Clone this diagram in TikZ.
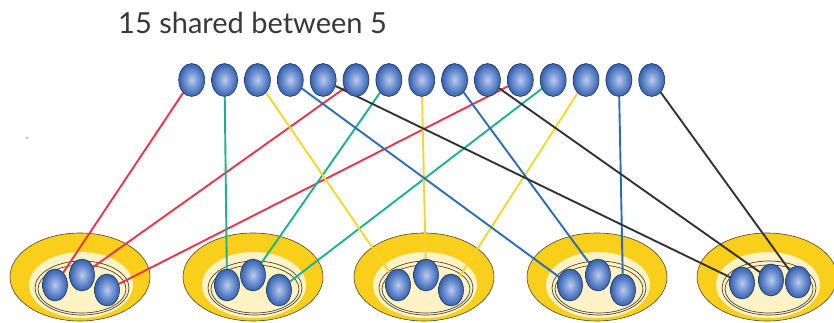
\documentclass[tikz,border=0pt]{standalone}
\usepackage{fontspec}
\setmainfont{Lato}
\usetikzlibrary{shapes.geometric,backgrounds}

% palette
\definecolor{ballhi}{HTML}{BCCCEE}
\definecolor{ballmid}{HTML}{86A2DA}
\definecolor{balllo}{HTML}{5079C2}
\definecolor{ballrim}{HTML}{3560AA}
\definecolor{gold}{HTML}{F9CF1C}
\definecolor{cream}{HTML}{FFF2C4}
\definecolor{rimline}{HTML}{4B4538}
\definecolor{cRed}{HTML}{E8354B}
\definecolor{cTeal}{HTML}{1CB08E}
\definecolor{cYellow}{HTML}{F9D52C}
\definecolor{cBlue}{HTML}{2A6CB8}
\definecolor{cBlack}{HTML}{333333}

\pgfdeclareradialshading{ballshade}{\pgfpoint{0bp}{0bp}}{%
  color(0bp)=(ballhi); color(9bp)=(ballmid); color(19bp)=(balllo);
  color(25bp)=(ballrim); color(50bp)=(ballrim)}

\tikzset{
  ball/.style={ellipse, inner sep=0pt, minimum width=26pt, minimum height=33pt,
    shading=ballshade, draw=ballrim!50!black, line width=0.55pt},
  gball/.style={ball, minimum width=25pt, minimum height=32pt},
  tray/.style={ellipse, inner sep=0pt, fill=gold, draw=rimline, line width=0.6pt},
  ring/.style={draw=rimline, line width=0.7pt},
  link/.style={line width=1.9pt},
}

\begin{document}
\begin{tikzpicture}[x=1pt, y=-1pt]
\useasboundingbox (0,0) rectangle (834,323);

% title
\node[anchor=base west, inner sep=0pt, text=black!78,
      font=\fontsize{29}{34}\selectfont] (title) at (118,34) {15 shared between 5};

% five trays
\begin{scope}[on background layer]
\foreach \n/\cx in {1/80,2/253,3/424,4/597,5/767} {
  \node[tray, minimum width=140pt, minimum height=88pt] (tray\n) at (\cx,277) {};
  \fill[cream] (\cx+1,285) ellipse [x radius=52, y radius=33];
  \path[ring] (\cx+2,288) ellipse [x radius=47, y radius=27];
  \path[ring] (\cx+2,289) ellipse [x radius=44, y radius=24];
}
\end{scope}

% stray speck
\fill[ballmid!70] (27,138) circle [radius=1.3];

% fifteen shared items
\foreach \i in {1,...,15}
  \node[ball] (t\i) at ({191.7+32.86*(\i-1)},80) {};

% three items in each tray
\node[gball] (g1a) at (55,285) {};
\node[gball] (g1b) at (82,275) {};
\node[gball] (g1c) at (107,290) {};
\node[gball] (g2a) at (227,285) {};
\node[gball] (g2b) at (253,275) {};
\node[gball] (g2c) at (279,290) {};
\node[gball] (g3a) at (398,285) {};
\node[gball] (g3b) at (426,275) {};
\node[gball] (g3c) at (451,290) {};
\node[gball] (g4a) at (570,285) {};
\node[gball] (g4b) at (598,275) {};
\node[gball] (g4c) at (623,290) {};
\node[gball] (g5a) at (742,283) {};
\node[gball] (g5b) at (771,280) {};
\node[gball] (g5c) at (798,282) {};

% links
\begin{scope}[on background layer]
\draw[link, cRed]    (t1) -- (g1a) (t6) -- (g1b) (t11) -- (g1c);
\draw[link, cTeal]   (t2) -- (g2a) (t7) -- (g2b) (t12) -- (g2c);
\draw[link, cYellow] (t3) -- (g3a) (t8) -- (g3b) (t13) -- (g3c);
\draw[link, cBlue]   (t4) -- (g4a) (t9) -- (g4b) (t14) -- (g4c);
\draw[link, cBlack]  (t5) -- (g5a) (t10) -- (g5b) (t15) -- (g5c);
\end{scope}
\end{tikzpicture}
\end{document}
